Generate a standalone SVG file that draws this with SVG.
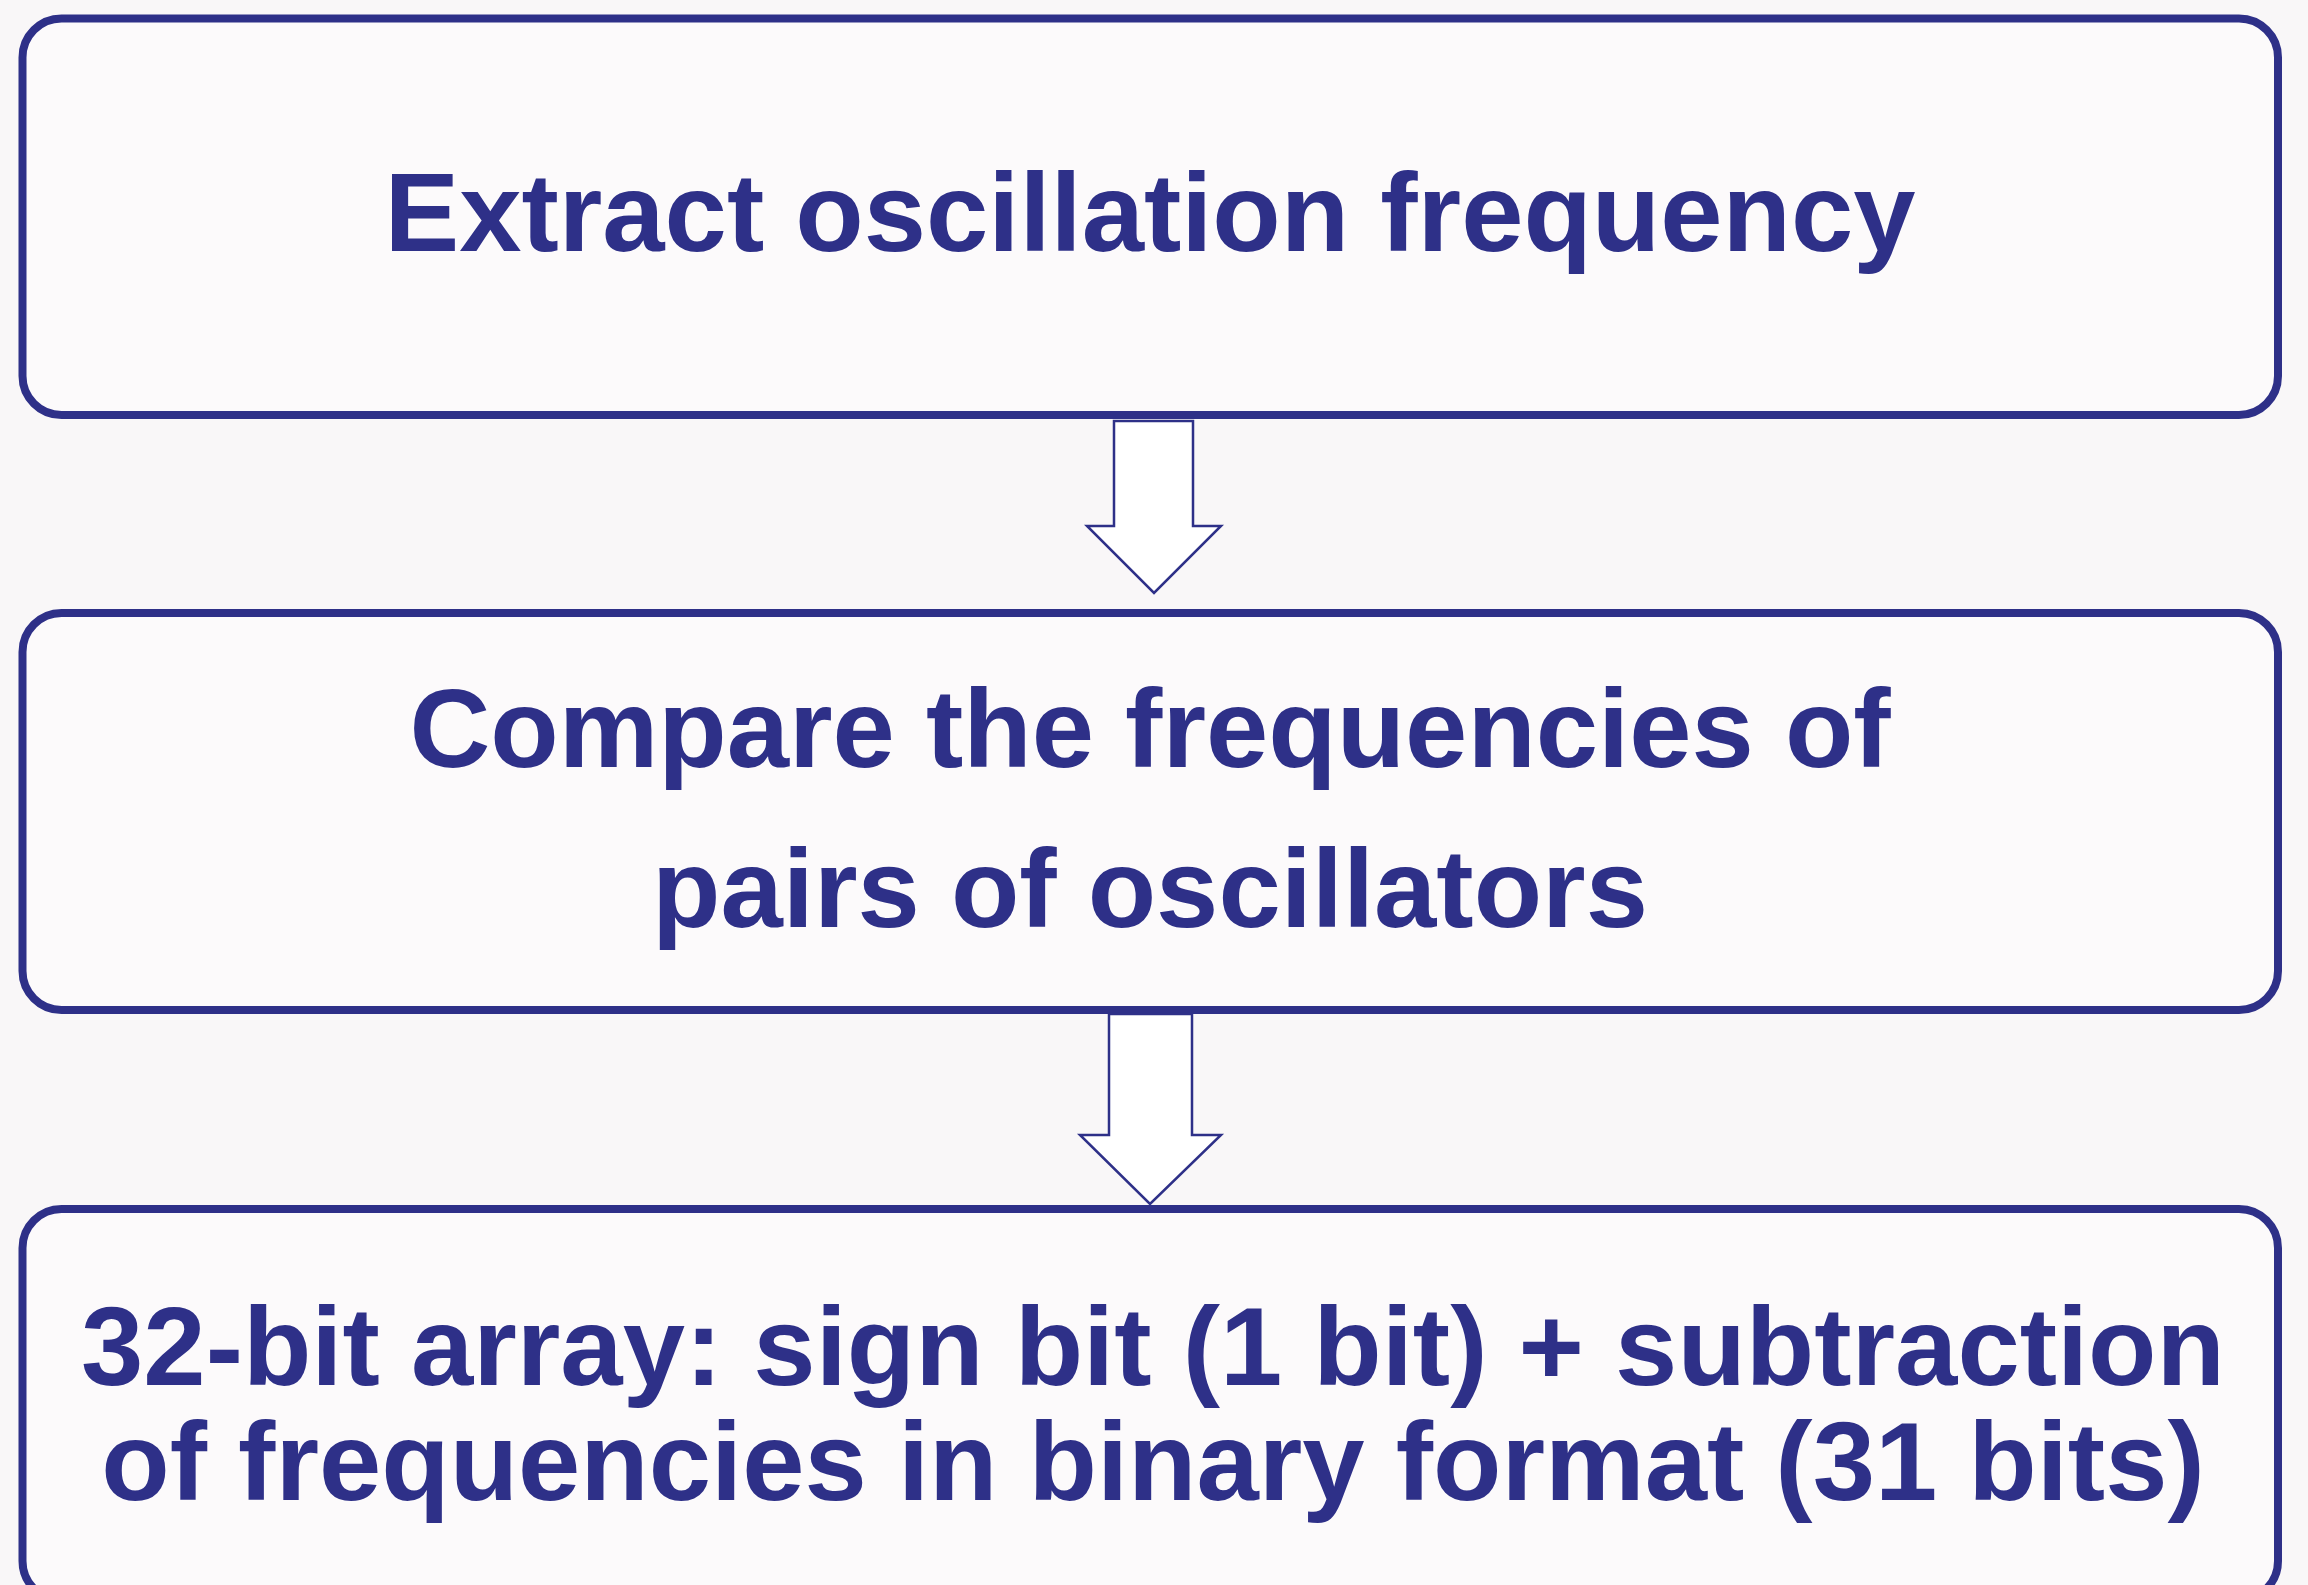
<svg xmlns="http://www.w3.org/2000/svg" width="2308" height="1585" viewBox="0 0 2308 1585">
<style>
.box{fill:#fcfafb;stroke:#2e3088;stroke-width:8}
.arrow{fill:#ffffff;stroke:#2e3088;stroke-width:2.5;stroke-linejoin:miter}
.lbl{font-family:"Liberation Sans",Arial,sans-serif;font-weight:bold;font-size:112px;fill:#2e3088;text-anchor:middle}
</style>
<rect x="0" y="0" width="2308" height="1585" fill="#f9f7f8"/>
<g id="node-extract">
<rect class="box" x="22.5" y="18.5" width="2255.5" height="396.5" rx="39" ry="39"/>
<text class="lbl" x="1150" y="251">Extract oscillation frequency</text>
</g>
<g id="node-compare">
<rect class="box" x="22.5" y="613" width="2255.5" height="397" rx="39" ry="39"/>
<text class="lbl" x="1150" y="767">Compare the frequencies of</text>
<text class="lbl" x="1150" y="927">pairs of oscillators</text>
</g>
<g id="node-array">
<rect class="box" x="22.5" y="1209" width="2255.5" height="391" rx="39" ry="39"/>
<text class="lbl" x="1153" y="1385">32-bit array: sign bit (1 bit) + subtraction</text>
<text class="lbl" x="1153" y="1500">of frequencies in binary format (31 bits)</text>
</g>
<g id="connectors">
<polygon class="arrow" points="1114,421 1193,421 1193,526 1221,526 1154,593 1087,526 1114,526"/>
<polygon class="arrow" points="1109,1014 1192,1014 1192,1135 1221,1135 1150,1204 1080,1135 1109,1135"/>
</g>
</svg>
